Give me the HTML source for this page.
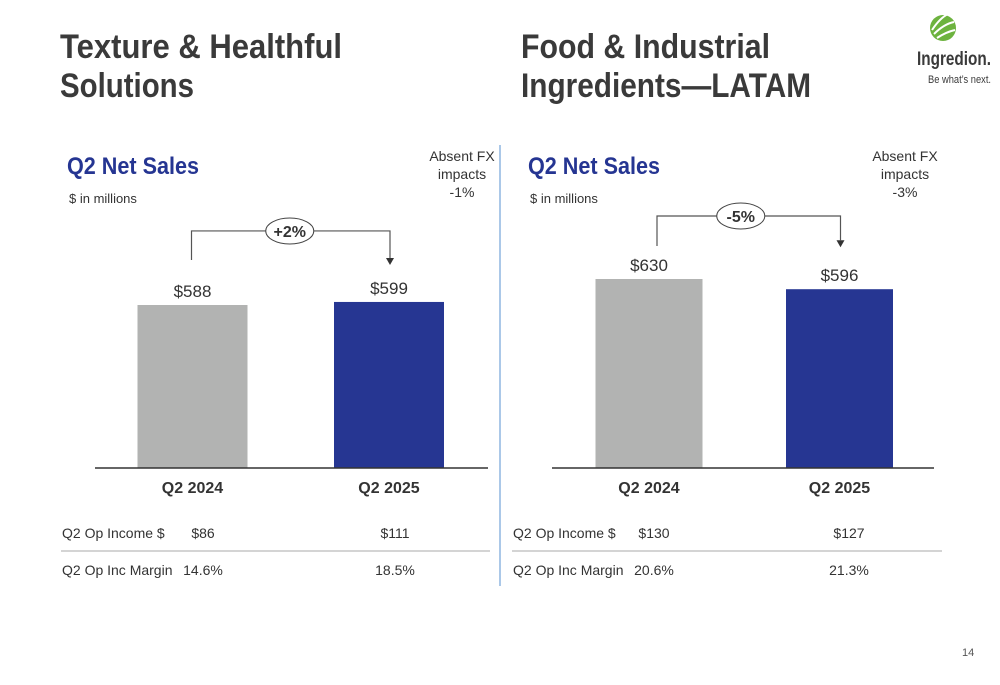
<!DOCTYPE html>
<html><head><meta charset="utf-8"><style>
html,body{margin:0;padding:0;background:#fff;}
svg{display:block;font-family:"Liberation Sans",sans-serif;}
</style></head><body>
<svg id="s" width="1000" height="685" viewBox="0 0 1000 685">
<g fill="#3a3a3a" font-weight="bold" font-size="34">
<text x="60" y="58" textLength="282" lengthAdjust="spacingAndGlyphs">Texture &amp; Healthful</text>
<text x="60" y="97" textLength="134" lengthAdjust="spacingAndGlyphs">Solutions</text>
<text x="521" y="58" textLength="249" lengthAdjust="spacingAndGlyphs">Food &amp; Industrial</text>
<text x="521" y="97" textLength="290" lengthAdjust="spacingAndGlyphs">Ingredients—LATAM</text>
</g>
<g>
<circle cx="943" cy="28" r="13" fill="#6db33f"/>
<path d="M932 30 Q940 18 948 14 M934 34 Q944 24 954 22 M937 38 Q946 32 955 30" stroke="#fff" stroke-width="2" fill="none"/>
<text x="917" y="65" font-size="19" font-weight="bold" fill="#3a3a3a" textLength="74" lengthAdjust="spacingAndGlyphs">Ingredion.</text>
<text x="928" y="83" font-size="11" fill="#3a3a3a" textLength="63" lengthAdjust="spacingAndGlyphs">Be what’s next.</text>
</g>
<line x1="500" y1="145" x2="500" y2="586" stroke="#8fb6e0" stroke-width="1.5"/>
<g id="charts"></g>
<text x="962" y="656" font-size="11" fill="#555">14</text>
</svg>
<script>
const categories = ["Q2 2024", "Q2 2025"];
const leftValues = [588, 599];
const rightValues = [630, 596];
const leftChange = "+2%";
const rightChange = "-5%";
const leftFx = "-1%";
const rightFx = "-3%";
const leftOpIncome = ["$86", "$111"];
const rightOpIncome = ["$130", "$127"];
const leftMargin = ["14.6%", "18.5%"];
const rightMargin = ["20.6%", "21.3%"];

const NS = "http://www.w3.org/2000/svg";
const root = document.getElementById("charts");
function mk(tag, attrs, parent, text) {
  const e = document.createElementNS(NS, tag);
  for (const k in attrs) e.setAttribute(k, attrs[k]);
  if (text !== undefined) e.textContent = text;
  (parent || root).appendChild(e);
  return e;
}
function panel(p) {
  const g = mk("g", {});
  
  
  const base = 468;
  const y = v => base - v * p.scale;
  const h = mk("text", {x: p.x0 + 7, y: 174, "font-size": 24, "font-weight": "bold", fill: "#253592", textLength: 132, lengthAdjust: "spacingAndGlyphs"}, g, "Q2 Net Sales");
  
  
  const u = mk("text", {x: p.x0 + 9, y: 203, "font-size": 13, fill: "#333"}, g, "$ in millions");
  
  
  ["Absent FX", "impacts", p.fx].forEach((t, i) => {
    const f = mk("text", {x: p.fxX, y: 161 + i * 18, "font-size": 14, fill: "#333", "text-anchor": "middle"}, g, t);
    
    
  });
  const tops = [];
  p.values.forEach((v, i) => {
    const cx = p.barX[i];
    const r = mk("rect", {x: cx - p.bw / 2, y: y(v), width: p.bw, height: base - y(v), fill: i === 0 ? "#b2b3b2" : "#263692"}, g);
    
    
    const l = mk("text", {x: cx, y: y(v) - 8, "font-size": 17, fill: "#333", "text-anchor": "middle"}, g, "$" + v);
    
    
    const c = mk("text", {x: cx, y: 493, "font-size": 16, "font-weight": "bold", fill: "#333", "text-anchor": "middle"}, g, categories[i]);
    
    
    tops.push(y(v));
  });
  const ax = mk("line", {x1: p.ax1, x2: p.ax2, y1: base, y2: base, stroke: "#333", "stroke-width": 1.5}, g);
  
  
  const by = Math.min(tops[0], tops[1]) - p.bOff;
  const lx = p.barX[0] + p.bl, rx = p.barX[1] + 1;
  const br = mk("path", {d: `M${lx} ${tops[0] - p.lOff} V${by} H${rx} V${tops[1] - p.rOff}`, stroke: "#555", fill: "none", "stroke-width": 1.2}, g);
  
  
  const ar = mk("path", {d: `M${rx - 4} ${tops[1] - p.rOff} H${rx + 4} L${rx} ${tops[1] - p.rOff + 7} Z`, fill: "#333"}, g);
  
  
  const ex = (lx + rx) / 2 - 1 + p.eShift;
  const el = mk("ellipse", {cx: ex, cy: by, rx: 24, ry: 13, fill: "#fff", stroke: "#444", "stroke-width": 1}, g);
  
  
  const et = mk("text", {x: ex, y: by + 6, "font-size": 16, "font-weight": "bold", fill: "#333", "text-anchor": "middle"}, g, p.change);
  
  
  const rows = [["Q2 Op Income $", p.op, 538], ["Q2 Op Inc Margin", p.margin, 575]];
  rows.forEach(rw => {
    const a = mk("text", {x: p.tx, y: rw[2], "font-size": 14, fill: "#333"}, g, rw[0]);
    
    
    [p.c1, p.c2].forEach((cx, i) => {
      const b = mk("text", {x: cx, y: rw[2], "font-size": 14, fill: "#333", "text-anchor": "middle"}, g, rw[1][i]);
      
      
    });
  });
  const sep = mk("line", {x1: p.tx - 1, x2: p.sepEnd, y1: 551, y2: 551, stroke: "#aaa", "stroke-width": 1}, g);
  
  
}
panel({name: "left", x0: 60, scale: 163 / 588, values: leftValues, barX: [192.5, 389], bw: 110, ax1: 95, ax2: 488,
  bOff: 71, lOff: 45, rOff: 44, bl: -1, eShift: 0,
  fx: leftFx, fxX: 462, change: leftChange, op: leftOpIncome, margin: leftMargin, tx: 62, c1: 203, c2: 395, sepEnd: 490});
panel({name: "right", x0: 521, scale: 189 / 630, values: rightValues, barX: [649, 839.5], bw: 107, ax1: 552, ax2: 934,
  bOff: 63, lOff: 33, rOff: 49, bl: 8, eShift: -7,
  fx: rightFx, fxX: 905, change: rightChange, op: rightOpIncome, margin: rightMargin, tx: 513, c1: 654, c2: 849, sepEnd: 942});
</script>
</body></html>
